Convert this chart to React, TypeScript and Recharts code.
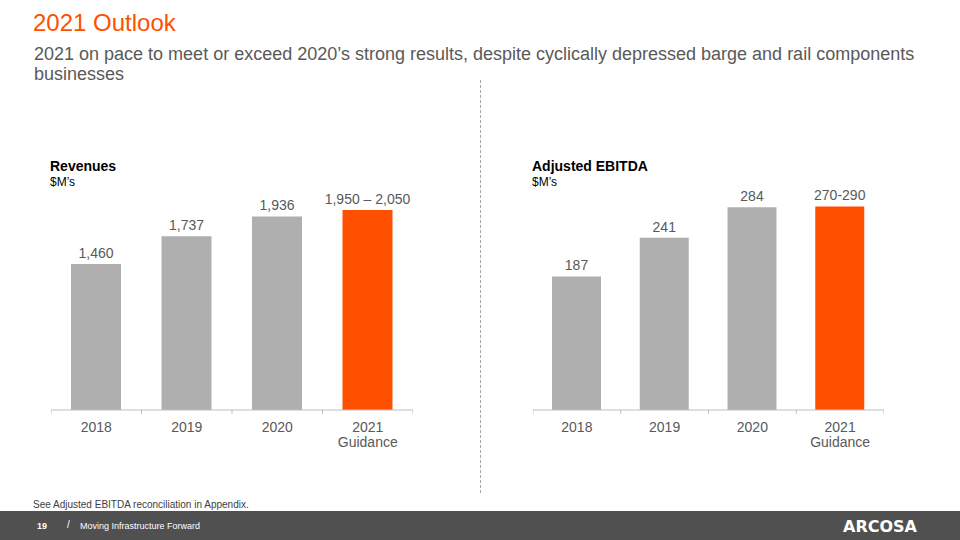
import React from 'react';
import { BarChart, Bar, XAxis, YAxis, Cell, LabelList } from 'recharts';

const years = ['2018', '2019', '2020', '2021'];
const revenue = [1460, 1737, 1936, 2000];
const revenueLabels = ['1,460', '1,737', '1,936', '1,950 – 2,050'];
const ebitda = [187, 241, 284, 285];
const ebitdaLabels = ['187', '241', '284', '270-290'];
const guidanceIndex = 3;

const GREY = '#AFAFAF';
const ORANGE = '#FF5000';
const TEXT = '#595959';
const FONT = '"Liberation Sans", Arial, sans-serif';

interface PanelProps {
  title: string;
  values: number[];
  labels: string[];
  domainMax: number;
  left: number;
  width: number;
  barSize: number;
}

const makeTick = (half: number) => (props: any) => {
  const { x, y, payload, index } = props;
  const isGuidance = index === guidanceIndex;
  return (
    <g>
      <line x1={x - half} x2={x - half} y1={y} y2={y + 4} stroke="#BFBFBF" />
      {isGuidance && <line x1={x + half} x2={x + half} y1={y} y2={y + 4} stroke="#BFBFBF" />}
      <text x={x} y={y + 22} textAnchor="middle" fill={TEXT} fontSize={14} fontFamily={FONT}>
        {payload.value}
      </text>
      {isGuidance && (
        <text x={x} y={y + 37} textAnchor="middle" fill={TEXT} fontSize={14} fontFamily={FONT}>
          Guidance
        </text>
      )}
    </g>
  );
};

// plain text label so the wide range label does not wrap
const renderValue = (props: any) => {
  const { x, y, width, value } = props;
  return (
    <text x={x + width / 2} y={y - 6} textAnchor="middle" fill={TEXT} fontSize={14} fontFamily={FONT}>
      {value}
    </text>
  );
};

const Panel = ({ title, values, labels, domainMax, left, width, barSize }: PanelProps) => {
  const data = years.map((y, i) => ({ name: y, value: values[i], label: labels[i] }));
  return (
    <>
      <div style={{ position: 'absolute', left: left - 1, top: 158, fontFamily: FONT, color: '#000' }}>
        <div style={{ fontSize: 14, fontWeight: 'bold', lineHeight: '17px' }}>{title}</div>
        <div style={{ fontSize: 12, lineHeight: '14px' }}>$M’s</div>
      </div>
      <div style={{ position: 'absolute', left, top: 150 }}>
        <BarChart width={width} height={310} data={data} margin={{ top: 10, right: 0, left: 0, bottom: 0 }}>
          <XAxis
            dataKey="name"
            height={50}
            interval={0}
            tickLine={false}
            tickSize={0}
            tickMargin={0}
            stroke="#BFBFBF"
            tick={makeTick(width / years.length / 2)}
          />
          <YAxis hide domain={[0, domainMax]} />
          <Bar dataKey="value" barSize={barSize} isAnimationActive={false}>
            {data.map((d, i) => (
              <Cell key={d.name} fill={i === guidanceIndex ? ORANGE : GREY} />
            ))}
            <LabelList dataKey="label" content={renderValue} />
          </Bar>
        </BarChart>
      </div>
    </>
  );
};

const App = () => (
  <div style={{ position: 'absolute', left: 0, top: 0, width: 960, height: 540, background: '#fff', overflow: 'hidden', fontFamily: FONT }}>
    <div style={{ position: 'absolute', left: 33, top: 9, fontSize: 24, color: ORANGE }}>2021 Outlook</div>
    <div style={{ position: 'absolute', left: 34, top: 44, fontSize: 18, lineHeight: '20px', color: TEXT }}>
      2021 on pace to meet or exceed 2020’s strong results, despite cyclically depressed barge and rail components
      <br />
      businesses
    </div>
    <div style={{ position: 'absolute', left: 480, top: 80, height: 413, borderLeft: '1px dashed #A6A6A6' }} />

    <Panel title="Revenues" values={revenue} labels={revenueLabels} domainMax={2500} left={51} width={362} barSize={50} />
    <Panel title="Adjusted EBITDA" values={ebitda} labels={ebitdaLabels} domainMax={350} left={533} width={351} barSize={49} />

    <div style={{ position: 'absolute', left: 33, top: 499, fontSize: 10, color: '#404040' }}>
      See Adjusted EBITDA reconciliation in Appendix.
    </div>
    <div style={{ position: 'absolute', left: 0, top: 511, width: 960, height: 29, background: '#505050', color: '#fff' }}>
      <span style={{ position: 'absolute', left: 37, top: 10, fontSize: 9, fontWeight: 'bold' }}>19</span>
      <span style={{ position: 'absolute', left: 67, top: 8, fontSize: 10 }}>/</span>
      <span style={{ position: 'absolute', left: 80, top: 10, fontSize: 9 }}>Moving Infrastructure Forward</span>
      <span style={{ position: 'absolute', left: 843, top: 6, fontSize: 16, fontWeight: 900, fontFamily: '"DejaVu Sans", sans-serif' }}>ARCOSA</span>
    </div>
  </div>
);

export default App;
